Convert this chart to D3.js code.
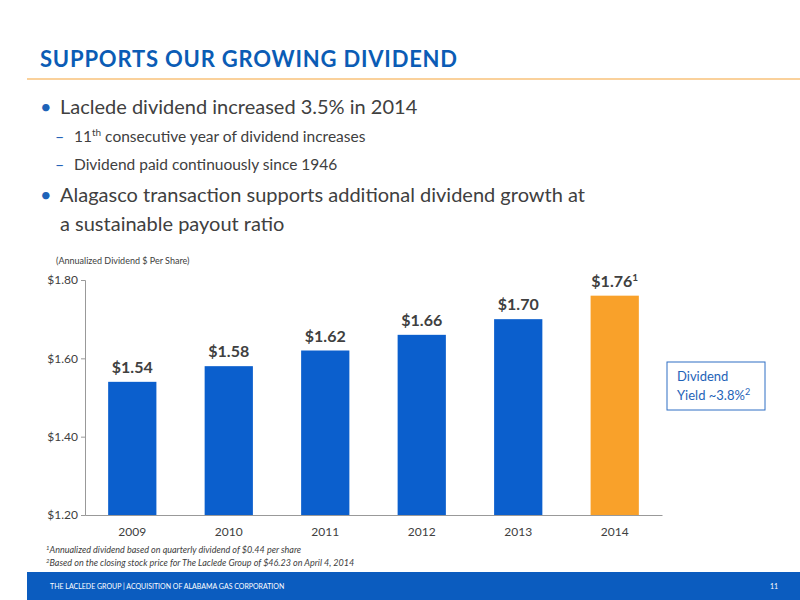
<!DOCTYPE html>
<html lang="en">
<head>
<meta charset="UTF-8">
<script src="https://d3js.org/d3.v7.min.js"></script>
<style>
  body { margin: 0; }
  text { font-family: Lato, "Open Sans", sans-serif; }
</style>
</head>
<body>
<svg id="chart"></svg>
<script>
  var years = ["2009", "2010", "2011", "2012", "2013", "2014"];
  var dividends = [1.54, 1.58, 1.62, 1.66, 1.70, 1.76];
  var valueLabels = ["$1.54", "$1.58", "$1.62", "$1.66", "$1.70", "$1.76"];
  var yTicks = [1.20, 1.40, 1.60, 1.80];

  var svg = d3.select("#chart").attr("width", 800).attr("height", 600);

  // slide header
  svg.append("text").attr("x", 40).attr("y", 67).attr("fill", "#0b5cb5")
    .attr("font-size", 22).attr("font-weight", "bold").attr("letter-spacing", 0.8)
    .text("SUPPORTS OUR GROWING DIVIDEND");
  svg.append("line").attr("x1", 27).attr("x2", 800).attr("y1", 79).attr("y2", 79)
    .attr("stroke", "#f8c27a").attr("stroke-width", 1.5);

  // bullets
  var bullets = [
    { y: 114, bullet: "•", text: "Laclede dividend increased 3.5% in 2014" },
    { y: 202, bullet: "•", text: "Alagasco transaction supports additional dividend growth at" },
    { y: 231, bullet: "", text: "a sustainable payout ratio" }
  ];
  bullets.forEach(function(b) {
    if (b.bullet) svg.append("text").attr("x", 40).attr("y", b.y).attr("fill", "#1e63b8")
      .attr("font-size", 20).text(b.bullet);
    svg.append("text").attr("x", 60).attr("y", b.y).attr("fill", "#404040")
      .attr("font-size", 20).text(b.text);
  });
  function subItem(yy) {
    svg.append("text").attr("x", 55).attr("y", yy).attr("fill", "#1e63b8").attr("font-size", 16).text("–");
    return svg.append("text").attr("x", 74).attr("y", yy).attr("fill", "#404040").attr("font-size", 15.5);
  }
  var sub1 = subItem(142);
  sub1.append("tspan").text("11");
  sub1.append("tspan").attr("font-size", 10).attr("dy", -6).text("th");
  sub1.append("tspan").attr("dy", 6).text(" consecutive year of dividend increases");
  subItem(170).text("Dividend paid continuously since 1946");

  svg.append("text").attr("x", 56).attr("y", 264).attr("fill", "#404040").attr("font-size", 9)
    .text("(Annualized Dividend $ Per Share)");

  // chart
  var plotLeft = 85, plotRight = 662, plotTop = 280, plotBottom = 515;
  var x = d3.scaleBand().domain(years).range([plotLeft, plotRight])
    .paddingInner(0.5).paddingOuter(0.24);
  var y = d3.scaleLinear().domain([1.20, 1.80]).range([plotBottom, plotTop]);

  svg.append("g").attr("transform", "translate(" + plotLeft + ",0)")
    .call(d3.axisLeft(y).tickValues(yTicks).tickFormat(d3.format("$.2f")).tickSize(4))
    .call(function(g) {
      g.selectAll("line, path").attr("stroke", "#999");
      g.selectAll("text").attr("font-size", 12).attr("fill", "#404040").attr("font-family", "Lato, sans-serif");
    });
  svg.append("g").attr("transform", "translate(0," + plotBottom + ")")
    .call(d3.axisBottom(x).tickSize(0).tickPadding(12))
    .call(function(g) {
      g.select("path").attr("stroke", "#999");
      g.selectAll("text").attr("font-size", 12).attr("fill", "#404040").attr("font-family", "Lato, sans-serif");
    });

  svg.selectAll(".bar").data(dividends).enter().append("rect")
    .attr("x", function(d, i) { return x(years[i]); })
    .attr("width", x.bandwidth())
    .attr("y", function(d) { return y(d); })
    .attr("height", function(d) { return plotBottom - y(d); })
    .attr("fill", function(d, i) { return i === years.length - 1 ? "#f9a12a" : "#0b5fcd"; });

  svg.selectAll(".lbl").data(dividends).enter().append("text")
    .attr("x", function(d, i) { return x(years[i]) + x.bandwidth() / 2; })
    .attr("y", function(d) { return y(d) - 9; })
    .attr("text-anchor", "middle").attr("font-size", 16).attr("font-weight", "bold").attr("fill", "#404040")
    .each(function(d, i) {
      var t = d3.select(this);
      t.append("tspan").text(valueLabels[i]);
      if (i === years.length - 1) t.append("tspan").attr("font-size", 10).attr("dy", -6).text("1");
    });

  // yield box
  svg.append("rect").attr("x", 667).attr("y", 362).attr("width", 98).attr("height", 48)
    .attr("fill", "white").attr("stroke", "#2f6fc4").attr("stroke-width", 1);
  svg.append("text").attr("x", 677).attr("y", 381).attr("fill", "#1e63b8").attr("font-size", 13).text("Dividend");
  var yl = svg.append("text").attr("x", 677).attr("y", 400).attr("fill", "#1e63b8").attr("font-size", 13);
  yl.append("tspan").text("Yield ~3.8%");
  yl.append("tspan").attr("font-size", 9).attr("dy", -5).text("2");

  // footnotes
  var notes = ["Annualized dividend based on quarterly dividend of $0.44 per share",
               "Based on the closing stock price for The Laclede Group of $46.23 on April 4, 2014"];
  notes.forEach(function(n, i) {
    var t = svg.append("text").attr("x", 46).attr("y", 553 + i * 13).attr("fill", "#404040")
      .attr("font-size", 9).attr("font-style", "italic");
    t.append("tspan").attr("font-size", 6).attr("dy", -3).text(i + 1);
    t.append("tspan").attr("dy", 3).text(n);
  });

  // footer
  svg.append("rect").attr("x", 27).attr("y", 572).attr("width", 773).attr("height", 28).attr("fill", "#0b5cbf");
  svg.append("text").attr("x", 50).attr("y", 589).attr("fill", "white").attr("font-size", 7)
    .text("THE LACLEDE GROUP | ACQUISITION OF ALABAMA GAS CORPORATION");
  svg.append("text").attr("x", 778).attr("y", 589).attr("fill", "white").attr("font-size", 7)
    .attr("text-anchor", "end").text("11");
</script>
</body>
</html>
